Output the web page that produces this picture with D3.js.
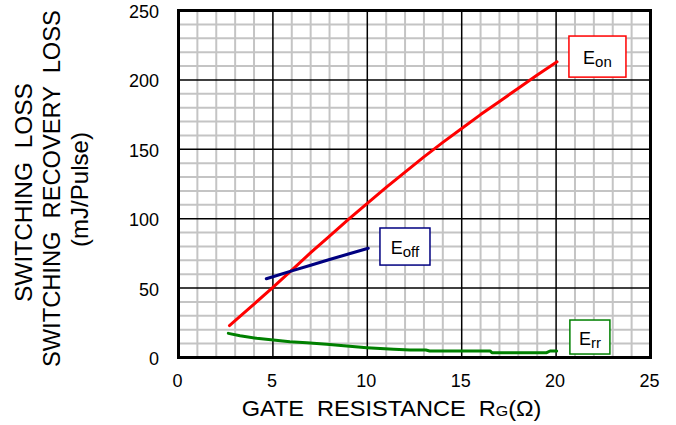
<!DOCTYPE html>
<html>
<head>
<meta charset="utf-8">
<script src="https://cdn.jsdelivr.net/npm/d3@7"></script>
<style>
  html, body { margin: 0; padding: 0; background: #fff; }
  svg { display: block; font-family: "Liberation Sans", Arial, sans-serif; }
  text { white-space: pre; }
</style>
</head>
<body>
<svg id="chart" width="676" height="425"></svg>
<script>
// Gate resistance (ohm) and switching energies (mJ/pulse)
const eonRg  = [2.7, 3, 4, 5, 6, 7, 8, 9, 10, 11, 12, 13, 14, 15, 16, 17, 18, 19, 20.05];
const eonVal = [23, 26.5, 38.5, 50.6, 63, 75.5, 87.5, 99.5, 111, 122.5, 133.5, 144.5, 155, 165, 175, 184.5, 194, 203.5, 213];

const eoffRg  = [4.65, 5, 6, 7, 8, 9, 10.05];
const eoffVal = [56.7, 58.2, 62.4, 66.5, 70.6, 74.6, 78.7];

const errRg  = [2.64, 3.26, 4.14, 5.02, 5.9, 6.79, 7.85, 8.91, 9.97, 11.4, 12.26, 13.1, 13.3, 16.5, 16.6, 19.5, 19.68, 20.03];
const errVal = [17.4, 15.7, 13.8, 12.6, 11.4, 10.7, 9.5, 8.3, 7.1, 5.9, 5.4, 5.4, 4.7, 4.7, 3.5, 3.5, 4.7, 4.7];

const xTicks = [0, 5, 10, 15, 20, 25];
const yTicks = [0, 50, 100, 150, 200, 250];
const xMinor = d3.range(0, 26, 1);
const yMinor = d3.range(0, 251, 10);

const seriesNames = ["E", "E", "E"];
const seriesSubs = ["on", "off", "rr"];
const seriesColors = ["#ff0000", "#000080", "#008000"];

const svg = d3.select("#chart");
const x = d3.scaleLinear().domain([0, 25]).range([178.5, 650.5]);
const y = d3.scaleLinear().domain([0, 250]).range([357.5, 10.5]);

// minor grid
const grid = svg.append("g");
grid.selectAll("line.mx").data(xMinor.filter(v => v % 5 !== 0)).join("line")
  .attr("x1", d => x(d)).attr("x2", d => x(d)).attr("y1", y(0)).attr("y2", y(250))
  .attr("stroke", "#c4c4c4").attr("stroke-width", 2);
grid.selectAll("line.my").data(yMinor.filter(v => v % 50 !== 0)).join("line")
  .attr("y1", d => y(d)).attr("y2", d => y(d)).attr("x1", x(0)).attr("x2", x(25))
  .attr("stroke", "#c4c4c4").attr("stroke-width", 2);

// major grid
grid.selectAll("line.Mx").data(xTicks.slice(1, -1)).join("line")
  .attr("x1", d => x(d)).attr("x2", d => x(d)).attr("y1", y(0)).attr("y2", y(250))
  .attr("stroke", "#000").attr("stroke-width", 1.5);
grid.selectAll("line.My").data(yTicks.slice(1, -1)).join("line")
  .attr("y1", d => y(d)).attr("y2", d => y(d)).attr("x1", x(0)).attr("x2", x(25))
  .attr("stroke", "#000").attr("stroke-width", 1.5);

// frame
svg.append("rect")
  .attr("x", x(0)).attr("y", y(250)).attr("width", x(25) - x(0)).attr("height", y(0) - y(250))
  .attr("fill", "none").attr("stroke", "#000").attr("stroke-width", 3);

// axes (labels only)
const xAxis = d3.axisBottom(x).tickValues(xTicks).tickSize(0).tickPadding(0);
const gx = svg.append("g").attr("transform", "translate(-1.5,381)").call(xAxis);
gx.select(".domain").remove();
gx.selectAll("text").attr("dy", null).attr("dominant-baseline", "central")
  .attr("font-size", 18).attr("fill", "#000").attr("font-family", null);

const yAxis = d3.axisLeft(y).tickValues(yTicks).tickSize(0).tickPadding(0);
const gy = svg.append("g").attr("transform", "translate(159,1)").call(yAxis);
gy.select(".domain").remove();
gy.selectAll("text").attr("dy", null).attr("dominant-baseline", "central")
  .attr("font-size", 18).attr("fill", "#000").attr("font-family", null);

// curves
const line = d3.line().x(d => x(d[0])).y(d => y(d[1]));
const series = [
  d3.zip(eonRg, eonVal),
  d3.zip(eoffRg, eoffVal),
  d3.zip(errRg, errVal)
];
svg.append("g").selectAll("path").data(series).join("path")
  .attr("d", line)
  .attr("fill", "none")
  .attr("stroke", (d, i) => seriesColors[i])
  .attr("stroke-width", 3)
  .attr("stroke-linejoin", "round")
  .attr("stroke-linecap", "round");

// series labels in boxes (box corners in data units)
const boxes = [
  { x0: 20.68, x1: 23.70, y0: 231.6, y1: 202.0 },
  { x0: 10.67, x1: 13.32, y0: 93.3, y1: 66.6 },
  { x0: 20.73, x1: 22.85, y0: 27.0, y1: 2.5 }
];
boxes.forEach((b, i) => {
  const g = svg.append("g");
  const bx = x(b.x0), by = y(b.y0), bw = x(b.x1) - x(b.x0), bh = y(b.y1) - y(b.y0);
  g.append("rect").attr("x", bx).attr("y", by).attr("width", bw).attr("height", bh)
    .attr("fill", "#fff").attr("stroke", seriesColors[i]).attr("stroke-width", 1.5);
  const t = g.append("text").attr("x", bx + bw / 2).attr("y", by + bh / 2 + 7.5)
    .attr("text-anchor", "middle").attr("font-size", 18).attr("fill", "#000");
  t.append("tspan").text(seriesNames[i]);
  t.append("tspan").attr("font-size", 15).attr("dy", 3).text(seriesSubs[i]);
});

// scale factor that stretches a text element to a given length
function fitText(sel, len) {
  const w = sel.node().getComputedTextLength();
  return len / w;
}

// x axis title
const xt = svg.append("text").attr("font-size", 22).attr("fill", "#000");
xt.append("tspan").text("GATE  RESISTANCE  R");
xt.append("tspan").attr("font-size", 15).text("G");
xt.append("tspan").text("(Ω)");
{
  const s = fitText(xt, 300);
  xt.attr("transform", `translate(241.7,415.7) scale(${s},1)`);
}

// y axis title, three rotated lines
const yTitle = [
  { text: "SWITCHING  LOSS", cx: 24, start: 302, len: 219 },
  { text: "SWITCHING  RECOVERY  LOSS", cx: 51, start: 367, len: 357 },
  { text: "(mJ/Pulse)", cx: 80, start: 247, len: 115 }
];
yTitle.forEach(l => {
  const t = svg.append("text").attr("font-size", 24).attr("fill", "#000")
    .attr("dominant-baseline", "central").text(l.text);
  const s = fitText(t, l.len);
  t.attr("transform", `translate(${l.cx},${l.start}) rotate(-90) scale(${s},1)`);
});
</script>
</body>
</html>
